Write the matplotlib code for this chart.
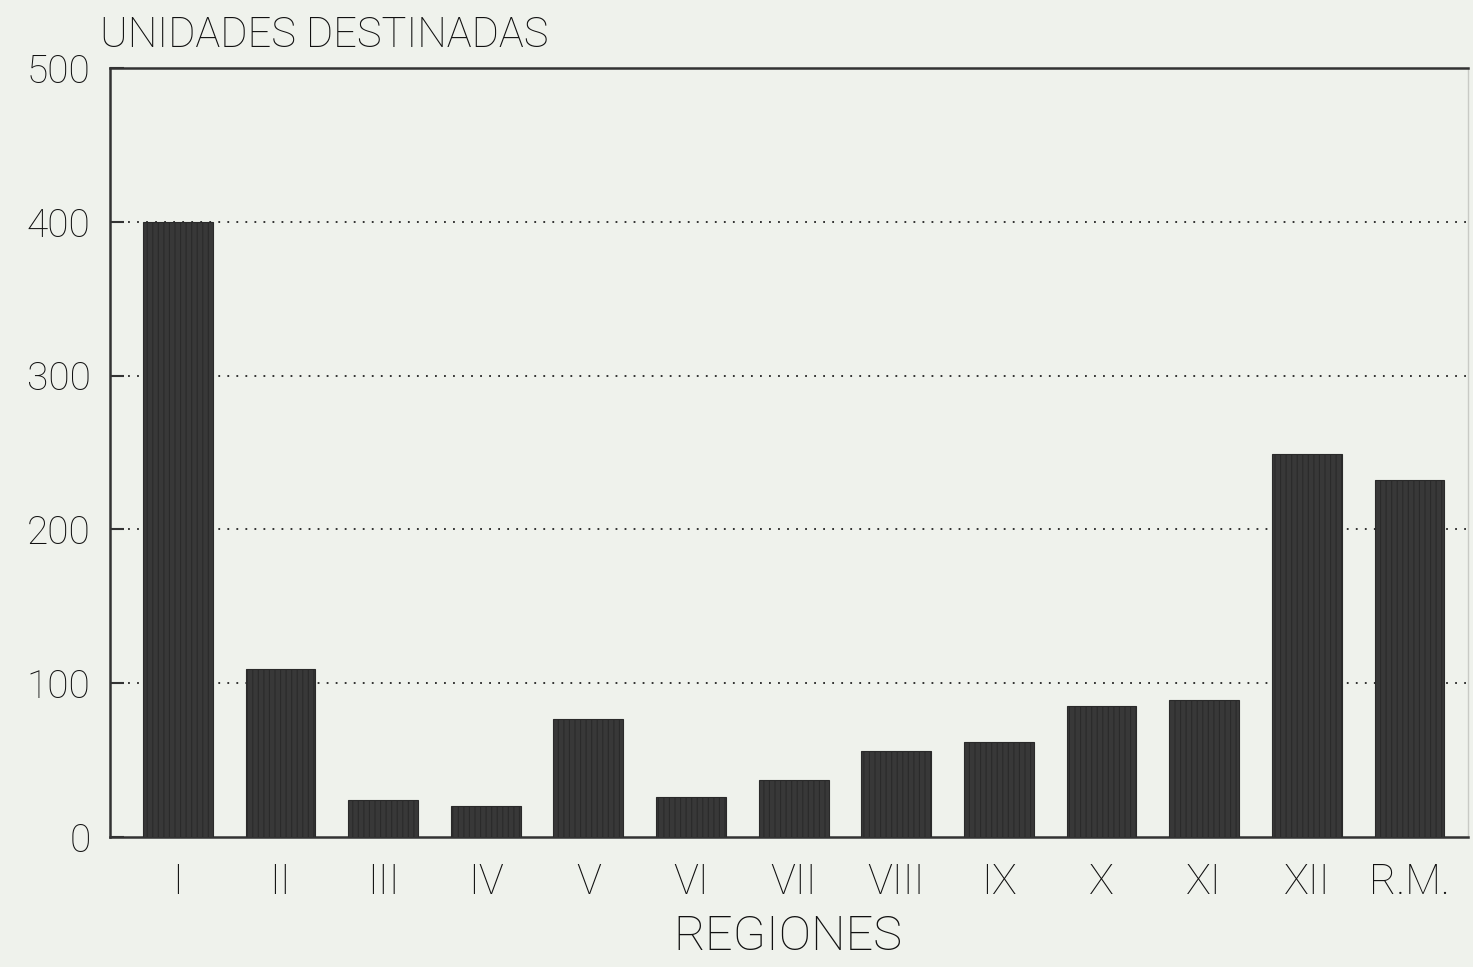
import matplotlib
matplotlib.use("Agg")
import matplotlib.pyplot as plt

regions = ["I", "II", "III", "IV", "V", "VI", "VII", "VIII", "IX", "X", "XI", "XII", "R.M."]
unidades = [400, 109, 24, 20, 77, 26, 37, 56, 62, 85, 89, 249, 232]
yticks = [0, 100, 200, 300, 400, 500]

plt.rcParams['font.family'] = ['Roboto', 'DejaVu Sans']
plt.rcParams['font.weight'] = 'light'
plt.rcParams['hatch.color'] = "#5c5c5c"
plt.rcParams['hatch.linewidth'] = 0.8

bg = "#eff2ec"
txt = "#111111"
fig = plt.figure(figsize=(14.73, 9.67), dpi=100, facecolor=bg)
ax = fig.add_axes([0.0747, 0.1344, 0.9219, 0.7953])
ax.set_facecolor(bg)

x = list(range(len(regions)))
ax.bar(x, unidades, width=0.68, color="#383838", edgecolor="#2a2a2a", linewidth=0.8,
       hatch="|||", zorder=3)

ax.set_xlim(-0.66, 12.57)
ax.set_ylim(0, 500)
ax.set_yticks(yticks)
ax.set_yticklabels([str(v) for v in yticks], fontsize=28, color=txt, fontweight='light')
ax.set_xticks(x)
ax.set_xticklabels(regions, fontsize=30, color=txt, fontweight='light')
ax.tick_params(axis='x', length=0, pad=18)
ax.tick_params(axis='y', direction='in', length=10, width=1.5, pad=14, color="#333333")

for v in yticks[1:-1]:
    ax.axhline(v, color="#222222", linestyle=(0, (1, 4)), linewidth=1.3, zorder=1)

for s in ["left", "bottom", "top"]:
    ax.spines[s].set_color("#333333")
    ax.spines[s].set_linewidth(1.8)
ax.spines["right"].set_color("#c8cac5")
ax.spines["right"].set_linewidth(1.0)

fig.text(0.068, 0.9514, "UNIDADES DESTINADAS", fontsize=30, color=txt, ha="left",
         va="baseline", fontweight='light')
fig.text(0.535, 0.018, "REGIONES", fontsize=35, color=txt, ha="center",
         va="baseline", fontweight='light')

fig.savefig("out.png", dpi=100, facecolor=bg)
